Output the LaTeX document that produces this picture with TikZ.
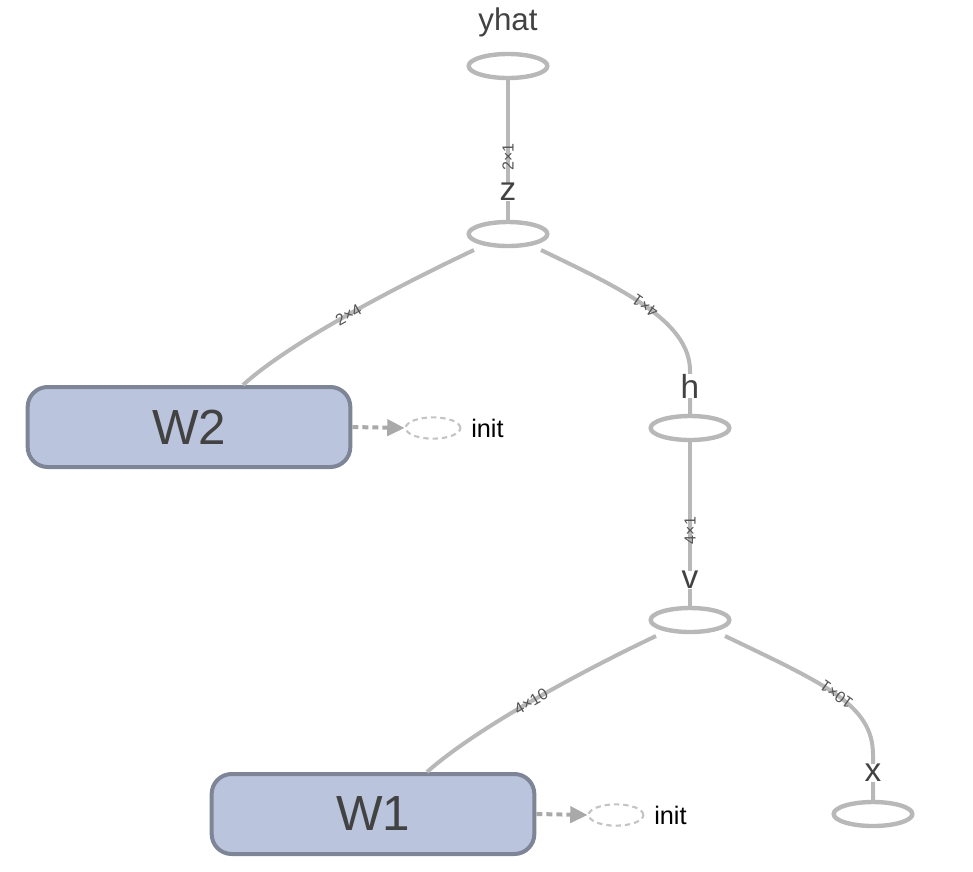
\documentclass[tikz,border=0pt]{standalone}
\usepackage{fontspec}
\setmainfont{Liberation Sans}
\usetikzlibrary{shapes.geometric,arrows.meta,calc}
\definecolor{edgegray}{HTML}{B8B8B8}
\definecolor{initgray}{HTML}{C4C4C4}
\definecolor{arrowgray}{HTML}{A9A9A9}
\definecolor{varfill}{HTML}{BAC4DC}
\definecolor{varborder}{HTML}{7E8596}
\definecolor{txtgray}{HTML}{424242}
\definecolor{lblgray}{HTML}{555555}
\tikzset{
  opnode/.style={ellipse, draw=edgegray, line width=3.3pt, minimum width=59pt, minimum height=18pt, inner sep=0pt},
  varnode/.style={rounded corners=15pt, draw=varborder, fill=varfill, line width=3pt, minimum width=242pt, minimum height=60pt, inner sep=0pt, text=txtgray, font=\fontsize{37}{40}\selectfont},
  oplabel/.style={text=txtgray, fill=white, inner sep=0pt, font=\fontsize{25}{28}\selectfont},
  edge/.style={draw=edgegray, line width=3pt},
  elabel/.style={text=lblgray, inner sep=0pt, font=\fontsize{12}{13}\selectfont, sloped, allow upside down},
  initnode/.style={ellipse, draw=initgray, dashed, dash pattern=on 4pt off 3pt, line width=1.6pt, minimum width=41pt, minimum height=16pt, inner sep=0pt},
  initarrow/.style={draw=arrowgray, line width=3pt, dash pattern=on 4.5pt off 3pt, -{Triangle[length=13pt,width=12pt,fill=arrowgray]}},
  inittext/.style={text=black, inner sep=0pt, anchor=west, font=\fontsize{19}{22}\selectfont}
}
\begin{document}
\begin{tikzpicture}[x=0.75pt,y=-0.75pt]
\useasboundingbox (0,0) rectangle (973,871);
% op nodes
\node[opnode] (yhat) at (508,66) {};
\node[opnode] (z) at (508,234) {};
\node[opnode] (h) at (690,428) {};
\node[opnode] (v) at (690,620) {};
\node[opnode] (x) at (873,814) {};
% variables
\node[varnode] (W2) at (189,427) {W2};
\node[varnode] (W1) at (373,814) {W1};
% init nodes
\node[initnode] (init2) at (433,428) {};
\node[initnode] (init1) at (616,815) {};
\node[inittext] (init2t) at (471,428) {init};
\node[inittext] (init1t) at (654,815) {init};
\draw[initarrow] (W2.east) -- (init2.west);
\draw[initarrow] (W1.east) -- (init1.west);
% edges
\draw[edge] (z.north) -- (yhat.south) node[elabel, pos=0.45] {2×1};
\draw[edge] (v.north) -- (h.south) node[elabel, pos=0.46] {4×1};
\draw[edge] ([xshift=54*0.75pt]W2.north) .. controls +(47,-43) and ([shift={(-108,51)}]z.center) .. ([shift={(-34,16)}]z.center) node[elabel, pos=0.5] {2×4};
\draw[edge] (h.north) -- ++(0,-43) .. controls +(0,-50) and ([shift={(112,54)}]z.center) .. ([shift={(33,16)}]z.center) node[elabel, pos=0.5] {4×1};
\draw[edge] ([xshift=54*0.75pt]W1.north) .. controls +(48,-43) and ([shift={(-110,52)}]v.center) .. ([shift={(-34,16)}]v.center) node[elabel, pos=0.5] {4×10};
\draw[edge] (x.north) -- ++(0,-45) .. controls +(0,-50) and ([shift={(135,64)}]v.center) .. ([shift={(35,16)}]v.center) node[elabel, pos=0.5] {10×1};
% op labels
\node[oplabel, font=\fontsize{23.5}{26}\selectfont] (yhatl) at (508,22) {yhat};
\node[oplabel] (zl) at (508,192) {z};
\node[oplabel] (hl) at (690,386) {h};
\node[oplabel] (vl) at (690,580) {v};
\node[oplabel] (xl) at (873,773) {x};
\end{tikzpicture}
\end{document}
